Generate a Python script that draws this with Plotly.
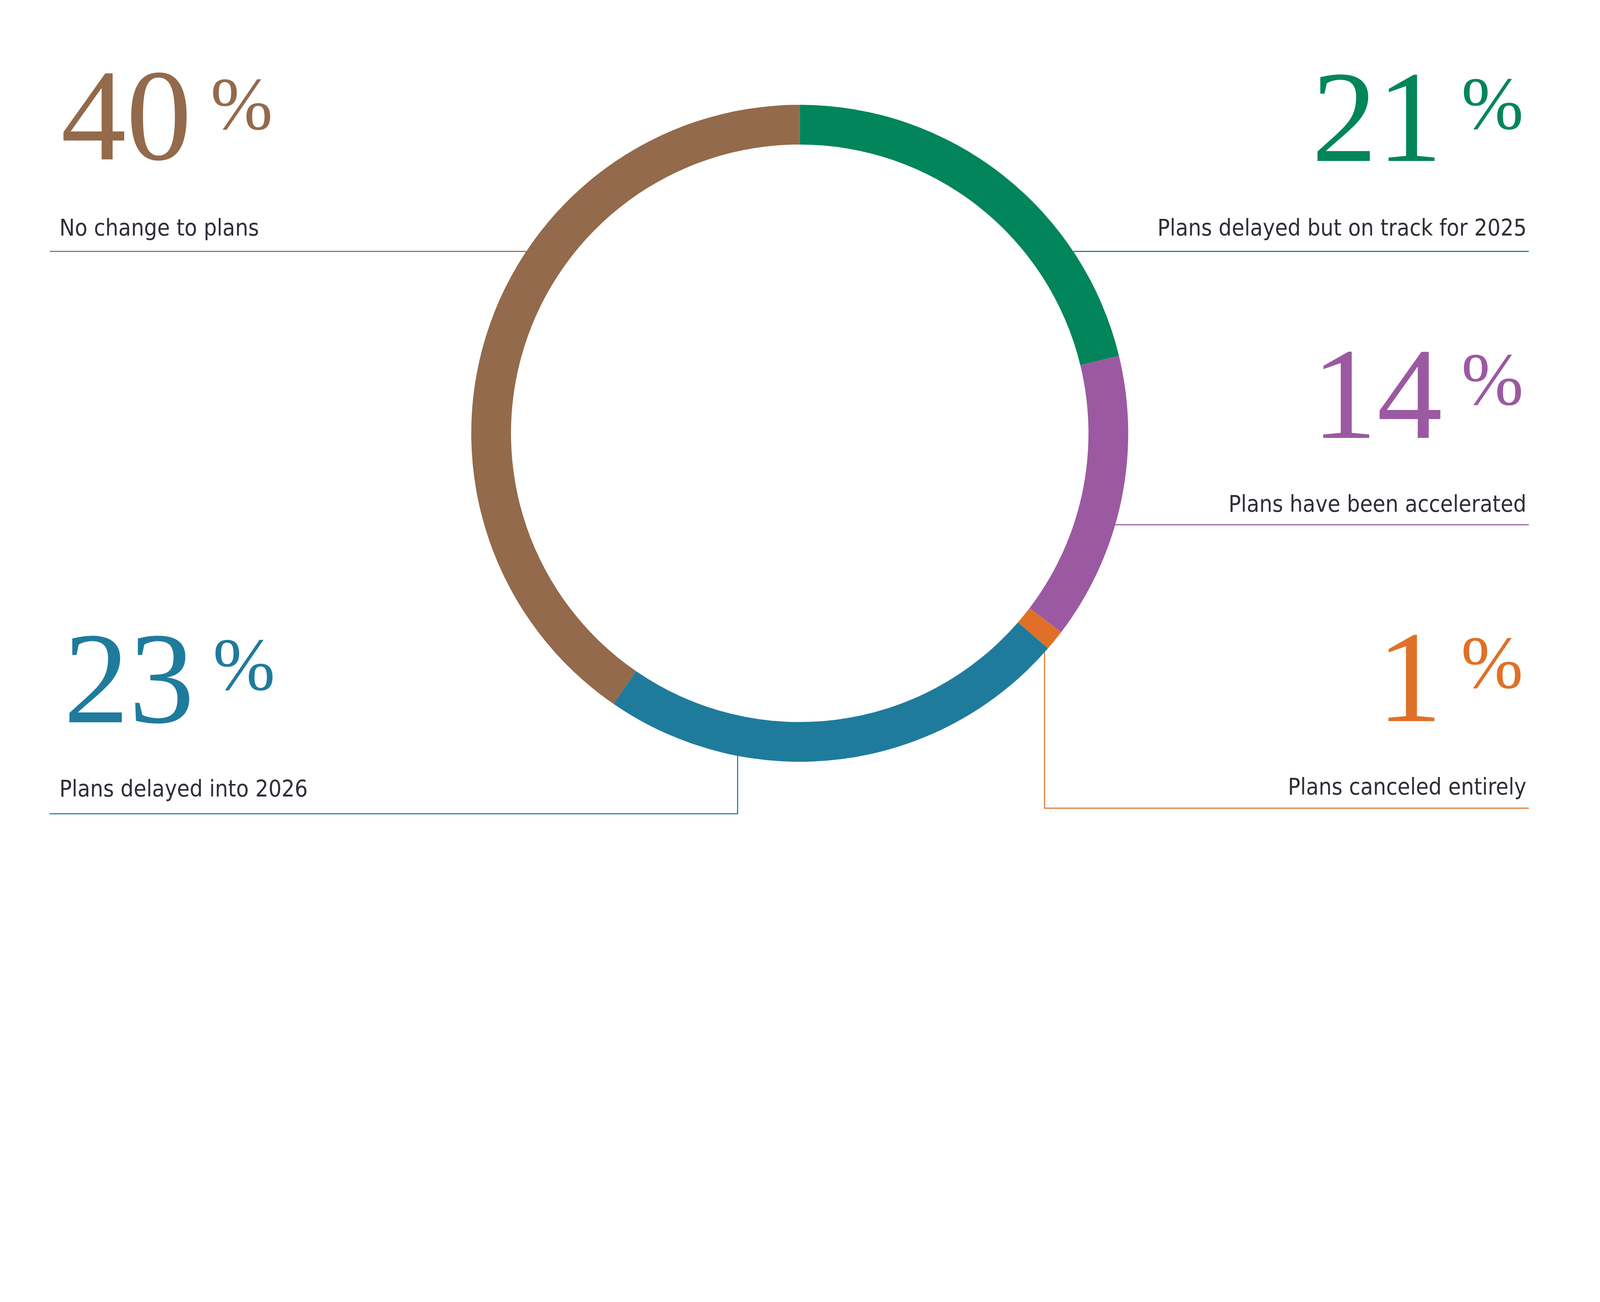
import math
import plotly.graph_objects as go

# survey answers, clockwise from 12 o'clock
categories = [
    "Plans delayed but on track for 2025",
    "Plans have been accelerated",
    "Plans canceled entirely",
    "Plans delayed into 2026",
    "No change to plans",
]
values = [21, 14, 1, 23, 40]
colors = ["#02855A", "#9B59A1", "#E07027", "#1F7B9C", "#936A4B"]

W, H = 6000, 3333
CX, CY, R = 2999, 1625, 1232  # donut centre / outer radius in px
HOLE = 0.879

TEXT_COLOR = "#2f2f38"
SERIF = "Liberation Serif, DejaVu Serif, serif"
NARROW = "Liberation Sans Narrow, DejaVu Sans Condensed, Roboto, sans-serif"
NUM_SIZE, PCT_SIZE, LAB_SIZE = 490, 280, 86
DIGIT_W, PCT_W = 0.5, 0.833     # advance widths (em) in Liberation Serif
SERIF_DESC, SANS_DESC = 0.216, 0.236
GAP = 70

# callout placement (px): side, outer x, top of digits, % baseline, label x, label baseline
callouts = {
    "Plans delayed but on track for 2025": ("right", 5716, 282, 484, 5728, 886),
    "Plans have been accelerated": ("right", 5716, 1321, 1518, 5728, 1922),
    "Plans canceled entirely": ("right", 5714, 2383, 2580, 5728, 2982),
    "Plans delayed into 2026": ("left", 236, 2387, 2587, 219, 2989),
    "No change to plans": ("left", 226, 276, 485, 219, 886),
}


def px(x):
    return x / W


def py(y):
    return 1 - y / H


def ring_x(y, side):
    return CX + side * math.sqrt(R ** 2 - (y - CY) ** 2)


def ring_y(x):
    return CY + math.sqrt(R ** 2 - (x - CX) ** 2)


def path(points):
    return "M " + " L ".join(f"{px(x):.5f},{py(y):.5f}" for x, y in points)


def text_ann(x, baseline, text, anchor, size, family, color, desc):
    return dict(x=px(x), y=py(baseline + desc * size + 1), xref="paper", yref="paper",
                text=text, showarrow=False, xanchor=anchor, yanchor="bottom",
                font=dict(family=family, size=size, color=color))


fig = go.Figure(go.Pie(
    values=values,
    labels=categories,
    marker=dict(colors=colors, line=dict(width=0)),
    hole=HOLE,
    sort=False,
    direction="clockwise",
    rotation=0,
    textinfo="none",
    showlegend=False,
    domain=dict(x=[px(CX - R), px(CX + R)], y=[py(CY + R), py(CY - R)]),
))

# leader lines from the ring to each label
leaders = {
    "No change to plans": [(187, 943), (ring_x(943, -1), 943)],
    "Plans delayed but on track for 2025": [(ring_x(943, 1), 943), (5733, 943)],
    "Plans have been accelerated": [(ring_x(1968, 1), 1968), (5733, 1968)],
    "Plans canceled entirely": [(3917, ring_y(3917)), (3917, 3031), (5733, 3031)],
    "Plans delayed into 2026": [(2766, ring_y(2766)), (2766, 3052), (186, 3052)],
}
shapes = []
for cat, col in zip(categories, colors):
    shapes.append(dict(type="path", xref="paper", yref="paper", path=path(leaders[cat]),
                       line=dict(color=col, width=4), layer="below"))

annotations = []
for cat, val, col in zip(categories, values, colors):
    side, ox, top, pct_base, lx, lb = callouts[cat]
    num = str(val)
    num_w = len(num) * DIGIT_W * NUM_SIZE
    num_base = top + 0.66 * NUM_SIZE
    if side == "left":
        annotations.append(text_ann(ox, num_base, num, "left", NUM_SIZE, SERIF, col, SERIF_DESC))
        annotations.append(text_ann(ox + num_w + GAP, pct_base, "%", "left", PCT_SIZE, SERIF, col, SERIF_DESC))
        annotations.append(text_ann(lx, lb, cat, "left", LAB_SIZE, NARROW, TEXT_COLOR, SANS_DESC))
    else:
        num_right = ox - PCT_W * PCT_SIZE - GAP
        annotations.append(text_ann(ox, pct_base, "%", "right", PCT_SIZE, SERIF, col, SERIF_DESC))
        annotations.append(text_ann(num_right, num_base, num, "right", NUM_SIZE, SERIF, col, SERIF_DESC))
        annotations.append(text_ann(lx, lb, cat, "right", LAB_SIZE, NARROW, TEXT_COLOR, SANS_DESC))

fig.update_layout(
    width=W, height=H,
    margin=dict(l=0, r=0, t=0, b=0),
    paper_bgcolor="white",
    plot_bgcolor="white",
    shapes=shapes,
    annotations=annotations,
)

# shrink everything together if the browser window is smaller than the chart
fit_script = """
document.body.style.margin = '0';
var gd = document.getElementById('{plot_id}');
var s = Math.min(window.innerWidth / 6000, window.innerHeight / 3333);
if (s < 1) {
    var upd = {width: Math.floor(6000 * s), height: Math.floor(3333 * s)};
    gd.layout.annotations.forEach(function (a, i) {
        upd['annotations[' + i + '].font.size'] = a.font.size * s;
    });
    gd.layout.shapes.forEach(function (sh, i) {
        upd['shapes[' + i + '].line.width'] = Math.max(1, sh.line.width * s);
    });
    gd.style.width = upd.width + 'px';
    gd.style.height = upd.height + 'px';
    Plotly.relayout(gd, upd);
}
"""

fig.write_html("out.html", config={"displayModeBar": False}, post_script=fit_script)
